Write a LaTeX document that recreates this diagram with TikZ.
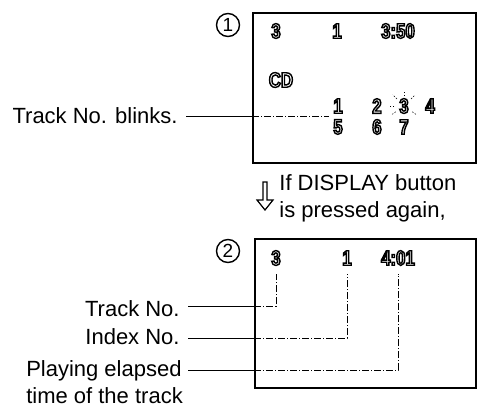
\documentclass[tikz,border=0pt]{standalone}
\usepackage{fontspec}
\setmainfont{Liberation Sans}
\newfontfamily\lcdfont[FakeStretch=0.8]{Liberation Sans}
\usetikzlibrary{positioning}

% outlined display characters
\newcommand\lcd[1]{{\lcdfont\bfseries\fontsize{21}{21}\selectfont
  \special{pdf:literal direct 1 Tr 1.4 w}#1\special{pdf:literal direct 0 Tr}}}

\begin{document}
\begin{tikzpicture}[x=1pt, y=-1pt, thick,
  lbl/.style={font=\fontsize{22}{26}\selectfont, inner sep=0pt},
  num/.style={circle, draw, line width=1.4pt, minimum size=23pt, inner sep=0pt,
    font=\fontsize{19}{19}\selectfont},
  seg/.style={inner sep=0pt},
  panel/.style={draw, line width=1.6pt, anchor=north west},
  tail/.style={line width=1pt},
  leader/.style={line width=0.6pt, dash pattern=on 7pt off 2pt on 1pt off 2pt},
  ray/.style={line width=0.5pt, dash pattern=on 1.5pt off 1.5pt}]
  \useasboundingbox (0,0) rectangle (477,413);

  % display 1
  \node[panel, minimum width=223pt, minimum height=150pt] (disp1) at (252,12) {};
  \node[num] (c1) at (228,25) {1};
  \node[seg] (tr1) at (276,31) {\lcd{3}};
  \node[seg] (ix1) at (337,31) {\lcd{1}};
  \node[seg] (tm1) at (398,31) {\lcd{3:50}};
  \node[seg] (cd)  at (281,80) {\lcd{CD}};
  \node[seg] (n1) at (338,106) {\lcd{1}};
  \node[seg] (n2) at (377,106) {\lcd{2}};
  \node[seg] (n3) at (404,106) {\lcd{3}};
  \node[seg] (n4) at (430,106) {\lcd{4}};
  \node[seg] (n5) at (338,127) {\lcd{5}};
  \node[seg] (n6) at (377,127) {\lcd{6}};
  \node[seg] (n7) at (404,127) {\lcd{7}};
  \foreach \a in {180,225,270,315,145,35}
    \draw[ray] ([shift={(\a:10)}]n3.center) -- ([shift={(\a:16)}]n3.center);

  \node[lbl, anchor=base east] (blk) at (178,123) {Track No. blinks.};
  \draw[tail] ([xshift=8pt,yshift=7pt]blk.base east) coordinate (blk-l)
    -- (blk-l -| disp1.west);
  \draw[leader] (blk-l -| disp1.west) -- ([xshift=-4pt]blk-l -| n5.west);

  % arrow and note
  \draw[line width=1.2pt, fill=white] (263,182) -- (263,200) -- (257,200)
    -- (265,210) -- (273,200) -- (267,200) -- (267,182) -- cycle;
  \node[lbl, anchor=base west] (note1) at (279,190) {If DISPLAY button};
  \node[lbl, anchor=base west] (note2) at ([yshift=-27pt]note1.base west) {is pressed again,};

  % display 2
  \node[panel, minimum width=221pt, minimum height=149pt] (disp2) at (254,238) {};
  \node[num] (c2) at (228,251) {2};
  \node[seg] (tr2) at (276,258) {\lcd{3}};
  \node[seg] (ix2) at (347,258) {\lcd{1}};
  \node[seg] (tm2) at (398,258) {\lcd{4:01}};

  \node[lbl, anchor=base east] (trk) at (180,316) {Track No.};
  \node[lbl, anchor=base east] (idx) at (180,344) {Index No.};
  \node[lbl, anchor=base east] (play) at (182,376) {Playing elapsed};
  \node[lbl, anchor=base west] (play2) at ([yshift=-27pt]play.base west) {time of the track};

  \draw[tail] ([xshift=8pt,yshift=10pt]trk.base east) coordinate (trk-l) -- (trk-l -| disp2.west);
  \draw[leader] (trk-l -| disp2.west) -| ([yshift=-8pt]tr2.south);
  \draw[tail] ([xshift=8pt,yshift=6pt]idx.base east) coordinate (idx-l) -- (idx-l -| disp2.west);
  \draw[leader] (idx-l -| disp2.west) -| ([yshift=-8pt]ix2.south);
  \draw[tail] ([xshift=6pt,yshift=6pt]play.base east) coordinate (play-l) -- (play-l -| disp2.west);
  \draw[leader] (play-l -| disp2.west) -| ([yshift=-8pt]tm2.south);
\end{tikzpicture}
\end{document}
